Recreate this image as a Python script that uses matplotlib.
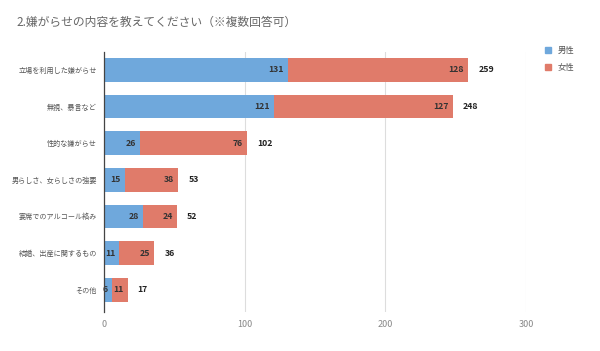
import matplotlib.pyplot as plt
from matplotlib.patches import Patch

plt.rcParams['font.family'] = ['Noto Sans CJK JP', 'DejaVu Sans']

categories = ['立場を利用した嫌がらせ', '無視、暴言など', '性的な嫌がらせ',
              '男らしさ、女らしさの強要', '宴席でのアルコール絡み',
              '結婚、出産に関するもの', 'その他']
male = [131, 121, 26, 15, 28, 11, 6]
female = [128, 127, 76, 38, 24, 25, 11]
totals = [m + f for m, f in zip(male, female)]
xticks = [0, 100, 200, 300]

blue = '#6fa8dc'
red = '#e07b6a'

fig = plt.figure(figsize=(6, 3.51), dpi=100)
ax = fig.add_axes([0.173, 0.112, 0.704, 0.741])

y = list(range(len(categories)))
ax.barh(y, male, height=0.65, color=blue, zorder=2)
ax.barh(y, female, left=male, height=0.65, color=red, zorder=2)

for i in y:
    ax.text(male[i] - 3, i, str(male[i]), ha='right', va='center',
            fontsize=6.3, fontweight='bold', color='#333333', zorder=3)
    ax.text(totals[i] - 3, i, str(female[i]), ha='right', va='center',
            fontsize=6.3, fontweight='bold', color='#333333', zorder=3)
    ax.text(totals[i] + 7, i, str(totals[i]), ha='left', va='center',
            fontsize=6.3, fontweight='bold', color='#222222', zorder=3)

ax.set_xlim(0, 300)
ax.set_ylim(6.6, -0.5)
ax.set_yticks(y)
ax.set_yticklabels(categories, fontsize=5.1, color='#555555')
ax.set_xticks(xticks)
ax.set_xticklabels([str(t) for t in xticks], fontsize=6.5, color='#888888')
ax.tick_params(length=0, pad=6)
ax.tick_params(axis='y', pad=5)
ax.grid(axis='x', color='#dddddd', linewidth=0.8, zorder=0)
for s in ['top', 'right', 'bottom']:
    ax.spines[s].set_visible(False)
ax.spines['left'].set_color('#444444')
ax.spines['left'].set_linewidth(0.9)
ax.spines['left'].set_zorder(4)

fig.text(0.028, 0.935, '2.嫌がらせの内容を教えてください（※複数回答可）',
         fontsize=8.5, color='#666666', va='center')

handles = [Patch(color=blue), Patch(color=red)]
fig.legend(handles, ['男性', '女性'], loc='upper left',
           bbox_to_anchor=(0.895, 0.89), frameon=False, fontsize=6,
           handlelength=0.8, handleheight=0.8, labelcolor='#555555',
           handletextpad=0.8, labelspacing=0.9)

fig.savefig('out.png', dpi=100)
